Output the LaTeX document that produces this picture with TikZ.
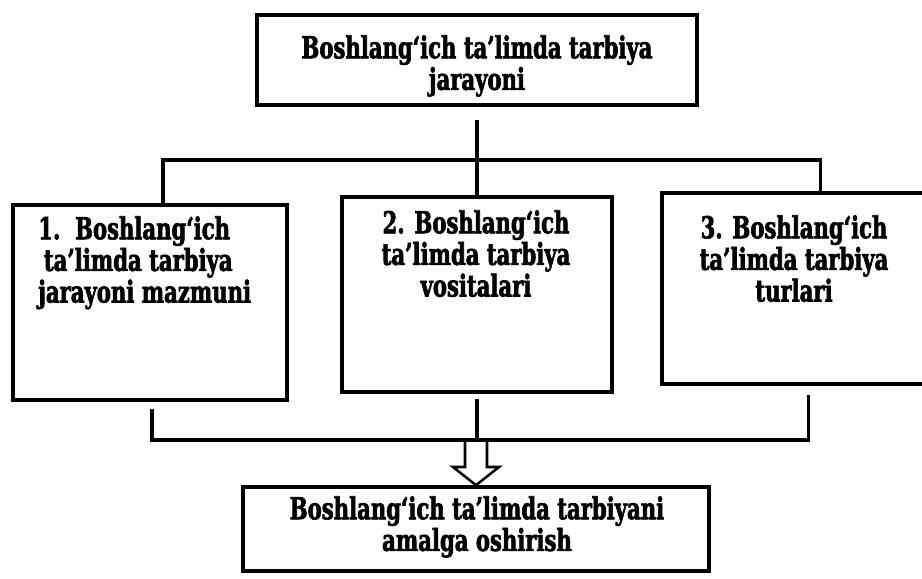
\documentclass[tikz,border=0pt]{standalone}
\usepackage{fontspec}
\setmainfont{DejaVu Serif}[FakeStretch=0.7, BoldFeatures={FakeBold=2}]
\begin{document}
\begin{tikzpicture}[x=0.025cm,y=-0.025cm]

		\tikzset{
		  box/.style={
			draw,
			rectangle,
			line width=2.6pt,
			inner sep=0pt,
		  },
		  conn/.style={line width=2.2pt},
		  txt/.style={font=\bfseries\fontsize{21.5}{22.5}\selectfont, inner sep=0pt, anchor=north},
		}
		\useasboundingbox (0,0) rectangle (922,579);
		\node[box, minimum width=11cm, minimum height=2.25cm] (proc) at (477,60) {};
		\node[box, minimum width=6.85cm, minimum height=4.875cm] (content) at (150,302.5) {};
		\node[box, minimum width=6.75cm, minimum height=4.875cm] (means) at (477,294.5) {};
		\node[box, minimum width=6.825cm, minimum height=4.775cm] (kinds) at (798.5,288.5) {};
		\node[box, minimum width=11.65cm, minimum height=2.1cm] (goal) at (476,529) {};
		\node[txt, align=center] (proctxt) at (477,35) {Boshlang‘ich ta’limda tarbiya\\jarayoni};
		\node[txt, align=left, anchor=north west] (contenttxt) at (38,216) {1.\ \ Boshlang‘ich\\\hspace{4pt}ta’limda tarbiya\\jarayoni mazmuni};
		\node[txt, align=center] (meanstxt) at (476,210) {2. Boshlang‘ich\\ta’limda tarbiya\\vositalari};
		\node[txt, align=center] (kindstxt) at (794,215) {3. Boshlang‘ich\\ta’limda tarbiya\\turlari};
		\node[txt, align=center] (goaltxt) at (477,496) {Boshlang‘ich ta’limda tarbiyani\\amalga oshirish};
		\coordinate (hub) at (477,160);
		\coordinate (low) at (476,440);
		\draw[conn, shorten <=0.325cm] (proc.south) -- (means.north);
		\draw[conn] ([xshift=0.325cm]content.north) |- (hub) -| ([xshift=0.54cm]kinds.north);
		\draw[conn, shorten <=0.175cm, shorten >=0.225cm] ([xshift=0.05cm]content.south) |- (low) -| ([xshift=0.26cm]kinds.south);
		\draw[conn, shorten <=0.125cm] (means.south) -- (means.south |- low);
		\draw[line width=1.8pt, line join=miter] ([shift={(-11,0)}]low) -- ++(0,27) -- ++(-12,0) -- (goal.north) -- ([shift={(23,27)}]low) -- ++(-12,0) -- ([shift={(11,0)}]low);

\end{tikzpicture}
\end{document}
